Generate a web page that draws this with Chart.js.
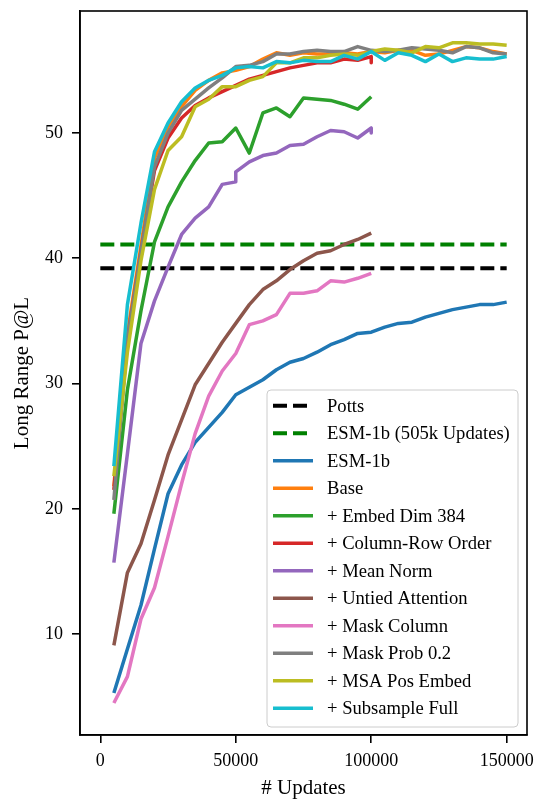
<!DOCTYPE html>
<html lang="en">
<head>
<meta charset="UTF-8" />
<title>Long Range P@L vs Updates</title>
<script src="https://cdn.jsdelivr.net/npm/chart.js"></script>
<style>
  html,body{margin:0;padding:0;background:#fff}
</style>
</head>
<body>
<canvas id="plChart" width="534" height="799"></canvas>
<script>
// x positions (training updates)
const updatesLong = [5000,10000,15000,20000,25000,30000,35000,40000,45000,50000,
  55000,60000,65000,70000,75000,80000,85000,90000,95000,100000,
  105000,110000,115000,120000,125000,130000,135000,140000,145000,150000];
const updatesShort = [5000,10000,15000,20000,25000,30000,35000,40000,45000,50000,
  55000,60000,65000,70000,75000,80000,85000,90000,95000,100000];
const updatesShortEnd = [5000,10000,15000,20000,25000,30000,35000,40000,45000,50000,
  55000,60000,65000,70000,75000,80000,85000,90000,95000,100000,100000];
const updatesPurple = [5000,10000,15000,20000,25000,30000,35000,40000,45000,50000,50000,
  55000,60000,65000,70000,75000,80000,85000,90000,95000,100000,100000];
const baselineX = [0,150000];

const xTicks = [0,50000,100000,150000];
const yTicks = [10,20,30,40,50];

const potts = [39.2,39.2];
const esm505k = [41.1,41.1];
const esm1b = [5.3,8.8,12.3,16.8,21.2,23.5,25.3,26.5,27.7,29.1,29.7,30.3,31.1,31.7,32.0,32.5,33.1,33.5,34.0,34.1,
  34.5,34.8,34.9,35.3,35.6,35.9,36.1,36.3,36.3,36.5];
const base = [21.8,34.0,41.0,48.0,50.5,52.1,53.4,54.2,54.8,55.0,55.3,55.9,56.4,56.2,56.4,56.3,56.3,56.4,56.3,56.5,
  56.4,56.6,56.6,56.2,56.3,56.6,56.9,56.8,56.5,56.3];
const embedDim = [19.6,29.5,35.8,41.3,44.1,46.1,47.8,49.2,49.3,50.4,48.4,51.6,52.0,51.3,52.8,52.7,52.6,52.3,51.9,52.9];
const colRow = [21.5,33.5,40.5,47.0,49.6,51.2,52.2,52.8,53.3,53.8,54.3,54.6,54.9,55.2,55.4,55.6,55.6,55.9,55.8,56.1,55.6];
const meanNorm = [15.7,24.4,33.2,36.6,39.3,41.9,43.2,44.1,45.9,46.1,46.9,47.7,48.2,48.4,49.0,49.1,49.7,50.2,50.1,49.6,50.4,50.0];
const untied = [9.1,14.9,17.2,20.7,24.3,27.1,29.9,31.6,33.3,34.8,36.3,37.5,38.2,39.1,39.8,40.4,40.6,41.1,41.5,42.0];
const maskCol = [4.5,6.6,11.2,13.7,17.8,22.0,26.0,29.0,31.0,32.4,34.7,35.0,35.5,37.2,37.2,37.4,38.2,38.1,38.4,38.8];
const maskProb = [20.7,33.5,40.5,47.3,50.0,51.8,52.7,53.6,54.4,55.3,55.4,55.7,56.3,56.3,56.5,56.6,56.5,56.5,56.9,56.6,
  56.5,56.6,56.8,56.7,56.6,56.4,56.9,56.8,56.4,56.3];
const msaPos = [22.6,32.5,39.8,45.5,48.6,49.7,52.1,52.7,53.7,53.7,54.2,54.5,55.6,55.6,56.0,56.0,56.2,56.3,56.2,56.5,
  56.7,56.6,56.4,56.9,56.8,57.2,57.2,57.1,57.1,57.0];
const subsample = [23.4,36.3,42.8,48.5,50.8,52.5,53.6,54.2,54.6,55.2,55.3,55.2,55.7,55.6,55.8,55.7,55.7,56.2,55.9,56.5,
  55.8,56.4,56.2,55.7,56.3,55.7,56.0,55.9,55.9,56.1];

const pts = (xs, ys) => ys.map((v, i) => ({x: xs[i], y: v}));

const series = [
  {label:'Potts', xs:baselineX, ys:potts, color:'#000000', dash:[14,6]},
  {label:'ESM-1b (505k Updates)', xs:baselineX, ys:esm505k, color:'#008000', dash:[14,6]},
  {label:'ESM-1b', xs:updatesLong, ys:esm1b, color:'#1f77b4'},
  {label:'Base', xs:updatesLong, ys:base, color:'#ff7f0e'},
  {label:'+ Embed Dim 384', xs:updatesShort, ys:embedDim, color:'#2ca02c'},
  {label:'+ Column-Row Order', xs:updatesShortEnd, ys:colRow, color:'#d62728'},
  {label:'+ Mean Norm', xs:updatesPurple, ys:meanNorm, color:'#9467bd'},
  {label:'+ Untied Attention', xs:updatesShort, ys:untied, color:'#8c564b'},
  {label:'+ Mask Column', xs:updatesShort, ys:maskCol, color:'#e377c2'},
  {label:'+ Mask Prob 0.2', xs:updatesLong, ys:maskProb, color:'#7f7f7f'},
  {label:'+ MSA Pos Embed', xs:updatesLong, ys:msaPos, color:'#bcbd22'},
  {label:'+ Subsample Full', xs:updatesLong, ys:subsample, color:'#17becf'}
];

const FONT = 'Liberation Serif';

// top/right spines
const framePlugin = {
  id:'frame',
  afterDatasetsDraw(chart){
    const {ctx, chartArea:a} = chart;
    ctx.save();
    ctx.strokeStyle = '#000';
    ctx.lineWidth = 1.6;
    ctx.strokeRect(a.left, a.top, a.right - a.left, a.bottom - a.top);
    ctx.restore();
  }
};

// matplotlib-style legend box in lower right
const boxLegend = {
  id:'boxLegend',
  afterDraw(chart){
    const {ctx, chartArea:a} = chart;
    const w = 251, h = 337;
    const x0 = a.right - 9 - w, y0 = a.bottom - 8 - h;
    ctx.save();
    ctx.beginPath();
    ctx.roundRect(x0, y0, w, h, 4);
    ctx.fillStyle = 'rgba(255,255,255,0.8)';
    ctx.fill();
    ctx.strokeStyle = '#cccccc';
    ctx.lineWidth = 1;
    ctx.stroke();
    ctx.font = '18.6px "' + FONT + '"';
    ctx.textBaseline = 'middle';
    ctx.fillStyle = '#000';
    chart.data.datasets.forEach((ds, i) => {
      const y = y0 + 15.7 + i * 27.5;
      ctx.beginPath();
      ctx.strokeStyle = ds.borderColor;
      ctx.lineWidth = ds.borderWidth;
      ctx.setLineDash(ds.borderDash || []);
      ctx.moveTo(x0 + 6, y);
      ctx.lineTo(x0 + 46, y);
      ctx.stroke();
      ctx.setLineDash([]);
      ctx.fillText(ds.label, x0 + 60, y + 1);
    });
    ctx.restore();
  }
};

new Chart(document.getElementById('plChart'), {
  type:'line',
  data:{
    datasets: series.map((s, i) => ({
      label:s.label,
      data:pts(s.xs, s.ys),
      borderColor:s.color,
      backgroundColor:s.color,
      borderWidth:s.dash ? 4 : 3.5,
      borderDash:s.dash || [],
      pointRadius:0,
      tension:0,
      fill:false,
      borderJoinStyle:'round',
      order:series.length - i
    }))
  },
  options:{
    responsive:false,
    animation:false,
    layout:{padding:{top:11, right:7, bottom:0, left:0}},
    plugins:{legend:{display:false}, tooltip:{enabled:false}},
    scales:{
      x:{
        type:'linear', min:-7500, max:157500, bounds:'data',
        afterBuildTicks:s => { s.ticks = xTicks.map(v => ({value:v})); },
        afterFit:s => { s.height = 64; s.paddingLeft = 0; s.paddingRight = 0; },
        ticks:{color:'#000', font:{family:FONT, size:18}, padding:7, maxRotation:0, autoSkip:false,
          callback:v => String(v)},
        grid:{display:true, drawOnChartArea:false, drawTicks:true, tickLength:8, color:'#000', lineWidth:1.6},
        border:{display:true, color:'#000', width:1.6},
        title:{display:true, text:'# Updates', color:'#000', font:{family:FONT, size:21, lineHeight:1}, padding:0}
      },
      y:{
        type:'linear', min:1.94, max:59.74, bounds:'data',
        afterBuildTicks:s => { s.ticks = yTicks.map(v => ({value:v})); },
        afterFit:s => { s.width = 80; s.paddingTop = 0; s.paddingBottom = 0; },
        ticks:{color:'#000', font:{family:FONT, size:18}, padding:9, autoSkip:false,
          callback:v => String(v)},
        grid:{display:true, drawOnChartArea:false, drawTicks:true, tickLength:8, color:'#000', lineWidth:1.6},
        border:{display:true, color:'#000', width:1.6},
        title:{display:true, text:'Long Range P@L', color:'#000', font:{family:FONT, size:21, lineHeight:1.2}, padding:{top:10, bottom:0}}
      }
    }
  },
  plugins:[framePlugin, boxLegend]
});
</script>
</body>
</html>
